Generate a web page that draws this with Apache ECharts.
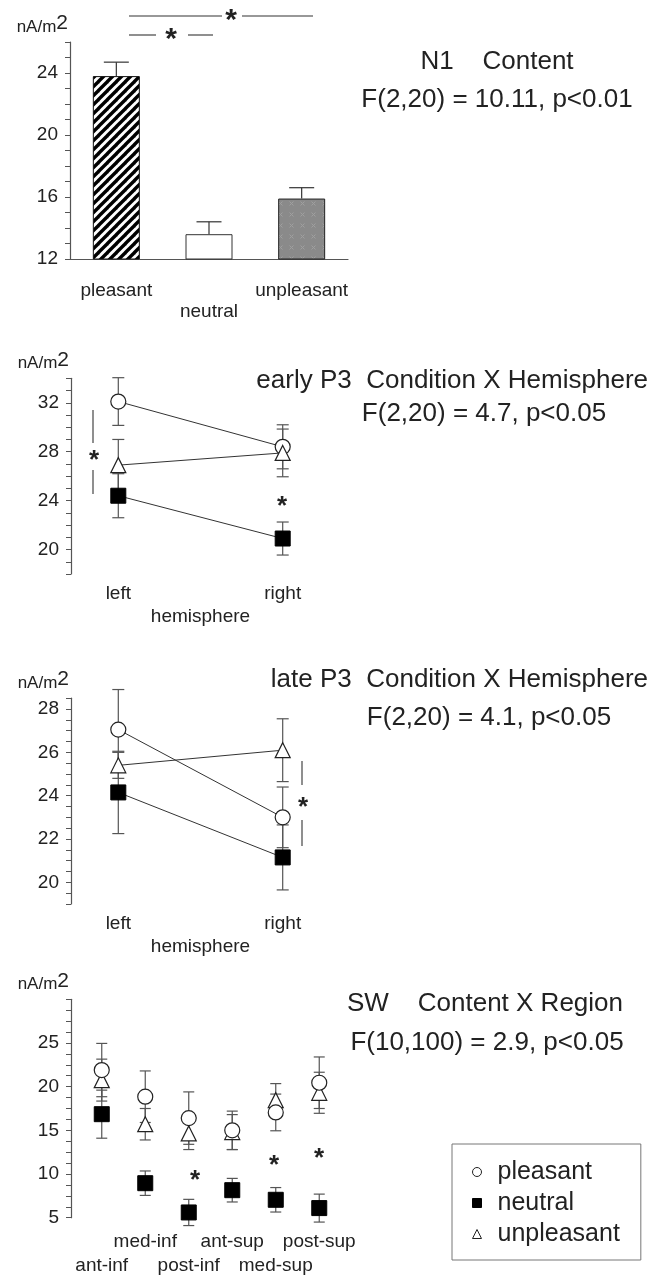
<!DOCTYPE html>
<html><head><meta charset="utf-8">
<script src="https://cdn.jsdelivr.net/npm/echarts@6/dist/echarts.min.js"></script>
<style>html,body{margin:0;padding:0;background:#fff}#c{width:665px;height:1275px}</style>
</head><body><div id="c"></div>
<script>
// ---------- data ----------
const n1Categories = ['pleasant', 'neutral', 'unpleasant'];
const n1Means = [23.8, 13.6, 15.9];
const n1Errors = [0.9, 0.8, 0.7];

const hemispheres = ['left', 'right'];
const earlyPleasant = [32.1, 28.4];
const earlyPleasantErr = [1.95, 1.8];
const earlyNeutral = [24.4, 20.9];
const earlyNeutralErr = [1.8, 1.35];
const earlyUnpleasant = [26.9, 27.9];
const earlyUnpleasantErr = [2.1, 1.95];

const latePleasant = [27.05, 23.0];
const latePleasantErr = [1.85, 1.4];
const lateNeutral = [24.15, 21.15];
const lateNeutralErr = [1.9, 1.5];
const lateUnpleasant = [25.4, 26.1];
const lateUnpleasantErr = [0.6, 1.45];

const regions = ['ant-inf', 'med-inf', 'post-inf', 'ant-sup', 'med-sup', 'post-sup'];
const swPleasant = [21.9, 18.85, 16.4, 15.0, 17.05, 20.45];
const swPleasantErr = [3.05, 2.95, 3.0, 2.2, 2.1, 2.95];
const swNeutral = [16.85, 8.95, 5.6, 8.15, 7.05, 6.1];
const swNeutralErr = [2.75, 1.4, 1.5, 1.35, 1.4, 1.6];
const swUnpleasant = [20.75, 15.7, 14.65, 14.8, 18.45, 19.3];
const swUnpleasantErr = [2.4, 1.8, 1.85, 2.0, 1.9, 2.35];

// ---------- helpers ----------
const FONT = '"Liberation Sans", Arial, sans-serif';
const TXT = '#222';
const AX = '#555';

function hatchTile() {
  const s = 9, c = document.createElement('canvas');
  c.width = s; c.height = s;
  const g = c.getContext('2d');
  g.fillStyle = '#fff'; g.fillRect(0, 0, s, s);
  g.strokeStyle = '#000'; g.lineWidth = 3.4; g.lineCap = 'square';
  for (let k = -1; k <= 1; k++) {
    g.beginPath(); g.moveTo(k * s - 1, s + 1); g.lineTo(k * s + s + 1, -1); g.stroke();
  }
  return c;
}
function dotTile() {
  const s = 11, c = document.createElement('canvas');
  c.width = s; c.height = s;
  const g = c.getContext('2d');
  g.fillStyle = '#8a8a8a'; g.fillRect(0, 0, s, s);
  g.strokeStyle = '#9f9f9f'; g.lineWidth = 1;
  g.beginPath(); g.moveTo(3.5, 3.5); g.lineTo(7.5, 7.5); g.moveTo(7.5, 3.5); g.lineTo(3.5, 7.5); g.stroke();
  return c;
}

function errData(means, errs, upperOnly) {
  return means.map((m, i) => [i, upperOnly ? m : m - errs[i], m + errs[i]]);
}
function errSeries(gi, data, capW, color, upperOnly) {
  return {
    type: 'custom', xAxisIndex: gi, yAxisIndex: gi, data: data, z: 1, silent: true, clip: false,
    encode: { x: 0, y: [1, 2] },
    renderItem: function (params, api) {
      const x = api.value(0);
      const lo = api.coord([x, api.value(1)]);
      const hi = api.coord([x, api.value(2)]);
      const hw = capW / 2;
      const st = { stroke: color, lineWidth: 1.2 };
      const ch = [
        { type: 'line', shape: { x1: hi[0], y1: lo[1], x2: hi[0], y2: hi[1] }, style: st },
        { type: 'line', shape: { x1: hi[0] - hw, y1: hi[1], x2: hi[0] + hw, y2: hi[1] }, style: st }
      ];
      if (!upperOnly) ch.push({ type: 'line', shape: { x1: lo[0] - hw, y1: lo[1], x2: lo[0] + hw, y2: lo[1] }, style: st });
      return { type: 'group', children: ch };
    }
  };
}
function yAx(gi, min, max, interval, labelEvery, offset) {
  return {
    type: 'value', gridIndex: gi, min: min, max: max, interval: interval, offset: offset || 0,
    axisLine: { show: true, lineStyle: { color: AX, width: 1.2 } },
    axisTick: { show: true, length: 5, lineStyle: { color: AX } },
    splitLine: { show: false },
    axisLabel: {
      margin: 12, fontSize: 19, color: TXT, fontFamily: FONT,
      formatter: v => (Math.abs(v % labelEvery) < 1e-6 && v < max) ? String(v) : ''
    },
    name: '{u|nA/m}{s|2}', nameLocation: 'end', nameGap: 6,
    nameTextStyle: {
      align: 'right', color: TXT, fontFamily: FONT, padding: [0, 2, 0, 0],
      rich: {
        u: { fontSize: 17, color: TXT, fontFamily: FONT, verticalAlign: 'bottom' },
        s: { fontSize: 21, color: TXT, fontFamily: FONT, verticalAlign: 'bottom', padding: [0, 0, 2, 0] }
      }
    }
  };
}
const symPleasant = { symbol: 'circle', symbolSize: 15, itemStyle: { color: '#fff', borderColor: '#222', borderWidth: 1.2, opacity: 1 } };
const symNeutral = { symbol: 'rect', symbolSize: 15, itemStyle: { color: '#000', borderColor: '#000', borderWidth: 1, opacity: 1 } };
const symUnpleasant = { symbol: 'triangle', symbolSize: 15, itemStyle: { color: '#fff', borderColor: '#222', borderWidth: 1.2, opacity: 1 } };

function lineSer(gi, name, data, sym) {
  return Object.assign({
    type: 'line', name: name, xAxisIndex: gi, yAxisIndex: gi, data: data, z: 3,
    lineStyle: { color: '#333', width: 1 }, showAllSymbol: true, silent: true
  }, JSON.parse(JSON.stringify(sym)));
}
function scatSer(name, data, sym, z) {
  return Object.assign({
    type: 'scatter', name: name, xAxisIndex: 3, yAxisIndex: 3, data: data, z: z, silent: true
  }, JSON.parse(JSON.stringify(sym)));
}

const hemiX = gi => ({
  type: 'category', gridIndex: gi, data: hemispheres, boundaryGap: false,
  axisLine: { show: false }, axisTick: { show: false },
  axisLabel: { margin: 10, fontSize: 19, color: TXT, fontFamily: FONT, interval: 0 },
  name: 'hemisphere', nameLocation: 'middle', nameGap: 33,
  nameTextStyle: { fontSize: 19, color: TXT, fontFamily: FONT }
});

const n1Styles = [
  { color: { image: hatchTile(), repeat: 'repeat' }, borderColor: '#111', borderWidth: 1 },
  { color: '#fff', borderColor: '#333', borderWidth: 1 },
  { color: { image: dotTile(), repeat: 'repeat' }, borderColor: '#222', borderWidth: 1 }
];

const T = (text, x, y, size, align, weight) => ({
  type: 'text', x: x, y: y, silent: true,
  style: { text: text, fill: TXT, font: (weight || 'normal') + ' ' + size + 'px ' + FONT, align: align || 'center', verticalAlign: 'middle' }
});
const L = (x1, y1, x2, y2) => ({ type: 'line', silent: true, shape: { x1, y1, x2, y2 }, style: { stroke: '#333', lineWidth: 1.1 } });
const STAR = (x, y, size) => T('*', x, y + size * 0.17, size, 'center', 'bold');

const G = { outerBoundsMode: 'none', containLabel: false };
const option = {
  backgroundColor: '#fff',
  animation: false,
  textStyle: { fontFamily: FONT },
  grid: [
    Object.assign({ left: 70, top: 42, width: 278, height: 217 }, G),
    Object.assign({ left: 118.3, top: 378.3, width: 164.4, height: 195.7 }, G),
    Object.assign({ left: 118.3, top: 698.2, width: 164.4, height: 205.8 }, G),
    Object.assign({ left: 80, top: 999.3, width: 261, height: 218.4 }, G)
  ],
  xAxis: [
    { type: 'category', gridIndex: 0, data: n1Categories,
      axisLine: { show: true, lineStyle: { color: AX, width: 1.2 } }, axisTick: { show: false },
      axisLabel: { margin: 21, fontSize: 19, lineHeight: 21, color: TXT, fontFamily: FONT, interval: 0,
        formatter: (v, i) => i % 2 === 1 ? '\n' + v : v } },
    hemiX(1),
    hemiX(2),
    { type: 'category', gridIndex: 3, data: regions,
      axisLine: { show: false }, axisTick: { show: false },
      axisLabel: { margin: 12, fontSize: 19, lineHeight: 24, color: TXT, fontFamily: FONT, interval: 0,
        formatter: (v, i) => i % 2 === 0 ? '\n' + v : v } }
  ],
  yAxis: [
    yAx(0, 12, 26, 1, 4, 0),
    yAx(1, 18, 34, 1, 4, 47.3),
    yAx(2, 19, 28.5, 0.5, 2, 47.3),
    yAx(3, 5, 30, 1.25, 5, 9)
  ],
  legend: {
    orient: 'vertical', left: 452, top: 1144,
    data: [{ name: 'pleasant', icon: 'circle' }, { name: 'neutral', icon: 'rect' }, { name: 'unpleasant', icon: 'triangle' }],
    itemWidth: 9, itemHeight: 9, itemGap: 5,
    padding: [15, 21, 13, 20],
    borderColor: '#777', borderWidth: 1, selectedMode: false,
    itemStyle: { borderWidth: 1 },
    textStyle: { fontSize: 25, color: TXT, fontFamily: FONT, lineHeight: 26, padding: [0, 0, 0, 11] }
  },
  series: [
    { type: 'bar', xAxisIndex: 0, yAxisIndex: 0, barWidth: 47, z: 2, silent: true,
      data: n1Means.map((v, i) => ({ value: v, itemStyle: n1Styles[i] })) },
    errSeries(0, errData(n1Means, n1Errors, true), 25, '#333', true),

    errSeries(1, errData(earlyPleasant, earlyPleasantErr), 12, '#555'),
    errSeries(1, errData(earlyNeutral, earlyNeutralErr), 12, '#555'),
    errSeries(1, errData(earlyUnpleasant, earlyUnpleasantErr), 12, '#555'),
    lineSer(1, 'early pleasant', earlyPleasant, symPleasant),
    lineSer(1, 'early unpleasant', earlyUnpleasant, symUnpleasant),
    lineSer(1, 'early neutral', earlyNeutral, symNeutral),

    errSeries(2, errData(latePleasant, latePleasantErr), 12, '#555'),
    errSeries(2, errData(lateNeutral, lateNeutralErr), 12, '#555'),
    errSeries(2, errData(lateUnpleasant, lateUnpleasantErr), 12, '#555'),
    lineSer(2, 'late pleasant', latePleasant, symPleasant),
    lineSer(2, 'late unpleasant', lateUnpleasant, symUnpleasant),
    lineSer(2, 'late neutral', lateNeutral, symNeutral),

    errSeries(3, errData(swPleasant, swPleasantErr), 11, '#555'),
    errSeries(3, errData(swNeutral, swNeutralErr), 11, '#555'),
    errSeries(3, errData(swUnpleasant, swUnpleasantErr), 11, '#555'),
    scatSer('unpleasant', swUnpleasant, symUnpleasant, 3),
    scatSer('pleasant', swPleasant, symPleasant, 4),
    scatSer('neutral', swNeutral, symNeutral, 5)
  ],
  graphic: [
    // N1 panel annotations & titles
    L(129, 16, 222, 16), L(242, 16, 313, 16), STAR(231, 16, 30),
    L(129, 35, 156, 35), L(188, 35, 213, 35), STAR(171, 35, 30),
    T('N1    Content', 497, 62, 26),
    T('F(2,20) = 10.11, p<0.01', 497, 100, 26),
    // early P3
    L(93, 410, 93, 443), L(93, 470, 93, 494), STAR(94, 456, 26), STAR(282, 502, 26),
    T('early P3  Condition X Hemisphere', 648, 381, 26, 'right'),
    T('F(2,20) = 4.7, p<0.05', 484, 414, 26),
    // late P3
    L(302, 761, 302, 785), L(302, 820, 302, 846), STAR(303, 803, 26),
    T('late P3  Condition X Hemisphere', 648, 680, 26, 'right'),
    T('F(2,20) = 4.1, p<0.05', 489, 718, 26),
    // SW
    STAR(195, 1176, 26), STAR(274, 1161, 26), STAR(319, 1154, 26),
    T('SW    Content X Region', 485, 1004, 26),
    T('F(10,100) = 2.9, p<0.05', 487, 1043, 26)
  ]
};
const chart = echarts.init(document.getElementById('c'));
chart.setOption(option);
</script>
</body></html>
